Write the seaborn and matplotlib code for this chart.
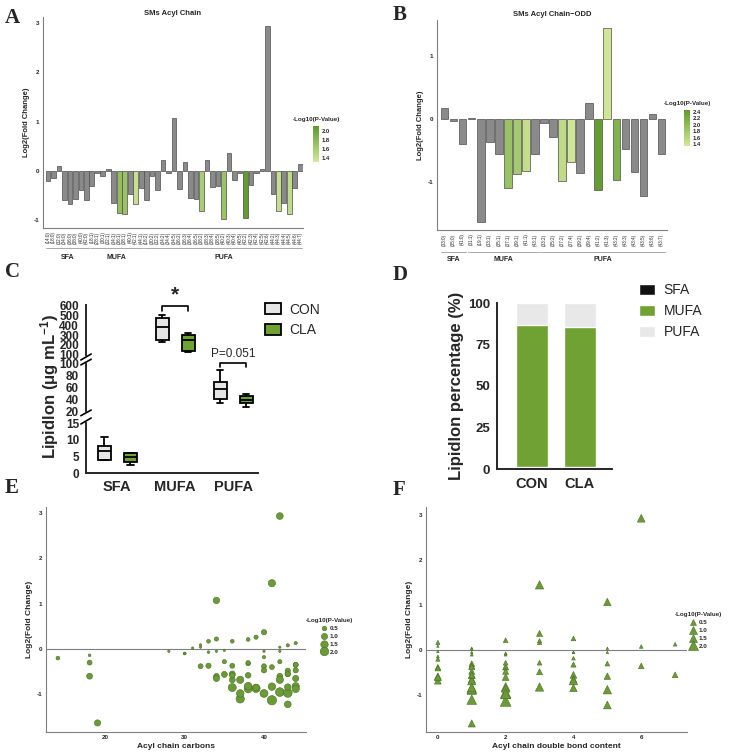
import numpy as np
import pandas as pd
import matplotlib
matplotlib.use("Agg")
import matplotlib.pyplot as plt
import seaborn as sns
from matplotlib.colors import LinearSegmentedColormap, Normalize
from matplotlib.patches import Patch
from matplotlib.lines import Line2D
import matplotlib.transforms as mtransforms

# -----------------------------
# Data: panel A (SMs acyl chain)
# -----------------------------
a_sfa = ["(14:0)", "(18:0)", "(32:0)", "(34:0)", "(36:0)", "(38:0)", "(40:0)", "(42:0)"]
a_mufa = ["(18:1)", "(28:1)", "(30:1)", "(32:1)", "(34:1)", "(36:1)", "(38:1)",
          "(40:1)", "(42:1)", "(44:1)"]
a_pufa = ["(18:2)", "(30:2)", "(32:2)", "(34:2)", "(34:4)", "(34:5)", "(36:2)", "(36:3)",
          "(36:4)", "(36:5)", "(38:2)", "(38:3)", "(38:4)", "(38:5)", "(40:2)", "(40:3)",
          "(40:4)", "(40:5)", "(42:2)", "(42:3)", "(42:4)", "(42:5)", "(42:6)", "(44:2)",
          "(44:3)", "(44:4)", "(44:5)", "(44:6)", "(44:7)"]
a_fc = [-0.20, -0.14, 0.09, -0.60, -0.68, -0.58, -0.38, -0.60,
        -0.30, -0.05, -0.10, 0.04, -0.65, -0.85, -0.88, -0.47, -0.68, -0.35,
        -0.60, -0.10, -0.38, 0.22, -0.05, 1.07, -0.37, 0.17, -0.55, -0.58,
        -0.82, 0.21, -0.32, -0.30, -0.98, 0.37, -0.18, -0.05, -0.95, -0.28,
        -0.05, 0.04, 2.93, -0.47, -0.82, -0.65, -0.88, -0.35, 0.13]
a_nlp = [0.3, 0.1, 0.05, 0.8, 0.9, 0.8, 0.6, 0.9,
         0.6, 0.05, 0.1, 0.05, 1.0, 1.75, 1.7, 0.7, 1.4, 0.6,
         0.9, 0.1, 0.6, 0.4, 0.05, 1.1, 0.6, 0.3, 0.9, 0.8,
         1.6, 0.3, 0.5, 0.4, 1.7, 0.7, 0.2, 0.05, 2.1, 0.4,
         0.05, 0.05, 1.2, 0.7, 1.4, 1.0, 1.45, 0.6, 0.2]

# -----------------------------
# Data: panel B (odd chains)
# -----------------------------
b_sfa = ["(33:0)", "(35:0)", "(41:0)"]
b_mufa = ["(31:1)", "(19:1)", "(33:1)", "(35:1)", "(37:1)", "(39:1)", "(41:1)", "(43:1)"]
b_pufa = ["(33:2)", "(35:2)", "(37:2)", "(37:4)", "(39:2)", "(39:4)", "(41:2)", "(41:3)",
          "(43:2)", "(43:3)", "(43:4)", "(43:5)", "(43:6)", "(43:7)"]
b_fc = [0.17, -0.03, -0.40, 0.02, -1.63, -0.37, -0.56, -1.10, -0.87, -0.83, -0.55,
        -0.07, -0.28, -0.98, -0.68, -0.85, 0.26, -1.13, 1.45, -0.97, -0.48, -0.84,
        -1.22, 0.08, -0.55]
b_nlp = [0.3, 0.05, 0.6, 0.05, 1.0, 0.7, 0.9, 1.9, 1.8, 1.5, 0.8, 0.1, 0.4, 1.55,
         1.4, 1.2, 0.4, 2.4, 1.4, 2.1, 0.7, 1.1, 1.2, 0.2, 0.6]

# -----------------------------
# Data: panel C (box plots, min/q1/median/q3/max)
# -----------------------------
c_groups = ["SFA", "MUFA", "PUFA"]
c_con_sfa = [3.8, 4.0, 6.6, 8.2, 10.7]
c_cla_sfa = [2.5, 3.4, 4.9, 5.9, 6.1]
c_con_mufa = [225, 245, 380, 468, 497]
c_cla_mufa = [133, 143, 250, 300, 317]
c_con_pufa = [34, 40.5, 57, 70, 89]
c_cla_pufa = [26, 33, 39, 45, 49.5]

# -----------------------------
# Data: panel D (composition %)
# -----------------------------
d_groups = ["CON", "CLA"]
d_sfa = [1.5, 1.5]
d_mufa = [85.3, 84.3]
d_pufa = [13.2, 14.2]

# -----------------------------
# Styling
# -----------------------------
sns.set_style("white")
plt.rcParams["font.family"] = ["Liberation Sans", "DejaVu Sans"]
plt.rcParams["mathtext.default"] = "regular"

W, H = 729, 752
GRAY = "#8a8a8a"
GREEN = "#6fa232"
PT_GREEN = "#6b9b37"
cmap = LinearSegmentedColormap.from_list("pv", ["#d4e99b", "#5e9a2c"])


def px(x0, y0, x1, y1):
    return [x0 / W, 1 - y1 / H, (x1 - x0) / W, (y1 - y0) / H]


fig = plt.figure(figsize=(W / 100, H / 100), dpi=100)


def style_thin(ax):
    for s in ["top", "right"]:
        ax.spines[s].set_visible(False)
    for s in ["left", "bottom"]:
        ax.spines[s].set_color("#7f7f7f")
        ax.spines[s].set_linewidth(0.8)
    ax.tick_params(axis="both", length=1.5, width=0.5, color="#7f7f7f",
                   labelsize=4.5, pad=1)


def bar_panel(rect, cbar_rect, labels, fc, nlp, groups, vmin, vmax, cticks,
              title, xlim, ylim, yticks, line_y, text_y, title_pad):
    ax = fig.add_axes(px(*rect))
    norm = Normalize(vmin=vmin, vmax=vmax)
    colors = [cmap(norm(p)) if p >= 1.3 else GRAY for p in nlp]
    sns.barplot(x=labels, y=fc, hue=labels, palette=colors, legend=False,
                saturation=1, width=0.85, edgecolor="#4d4d4d", linewidth=0.5, ax=ax)
    style_thin(ax)
    ax.set_xlim(*xlim)
    ax.set_ylim(*ylim)
    ax.set_yticks(yticks)
    ax.set_yticklabels([str(t) for t in yticks], fontweight="bold")
    ax.tick_params(axis="x", labelrotation=90, labelsize=3.3, pad=1)
    ax.set_xlabel("")
    ax.set_ylabel("Log2(Fold Change)", fontsize=5.5, fontweight="bold", labelpad=3)
    ax.set_title(title, fontsize=5.5, fontweight="bold", pad=title_pad)
    trans = mtransforms.blended_transform_factory(ax.transData, ax.transAxes)
    start = 0
    for name, n in groups:
        ax.plot([start - 0.4, start + n - 0.6], [line_y, line_y], color="#9a9a9a",
                lw=0.6, transform=trans, clip_on=False)
        ax.text(start + (n - 1) / 2, text_y, name, transform=trans, ha="center",
                va="top", fontsize=5, fontweight="bold")
        start += n
    cax = fig.add_axes(px(*cbar_rect))
    sm = plt.cm.ScalarMappable(norm=norm, cmap=cmap)
    cb = fig.colorbar(sm, cax=cax, ticks=cticks)
    cb.outline.set_visible(False)
    cb.ax.tick_params(length=0, labelsize=4.2, pad=2)
    cb.ax.set_yticklabels([f"{t:.1f}" for t in cticks], fontweight="bold")
    cax.text(0.5, 1.12, "-Log10(P-Value)", transform=cax.transAxes, ha="center",
             va="bottom", fontsize=4.5, fontweight="bold")
    return ax


# -----------------------------
# Panel A
# -----------------------------
bar_panel((43, 17, 303, 228), (313, 126, 319, 162), a_sfa + a_mufa + a_pufa, a_fc,
          a_nlp, [("SFA", len(a_sfa)), ("MUFA", len(a_mufa)), ("PUFA", len(a_pufa))],
          1.3, 2.12, [1.4, 1.6, 1.8, 2.0], "SMs Acyl Chain", (-0.9, 46.5),
          (-1.16, 3.12), [-1, 0, 1, 2, 3], -0.095, -0.125, 1.5)

# -----------------------------
# Panel B
# -----------------------------
bar_panel((437, 20, 667, 230), (684, 110, 690, 146), b_sfa + b_mufa + b_pufa, b_fc,
          b_nlp, [("SFA", len(b_sfa)), ("MUFA", len(b_mufa)), ("PUFA", len(b_pufa))],
          1.35, 2.45, [1.4, 1.6, 1.8, 2.0, 2.2, 2.4], "SMs Acyl Chain\u2212ODD",
          (-0.83, 24.6), (-1.76, 1.57), [-1, 0, 1], -0.105, -0.125, 3)

# -----------------------------
# Panel C: broken-axis box plots
# -----------------------------
rows = []
for g, con, cla in zip(c_groups, [c_con_sfa, c_con_mufa, c_con_pufa],
                       [c_cla_sfa, c_cla_mufa, c_cla_pufa]):
    rows += [(g, "CON", v) for v in con]
    rows += [(g, "CLA", v) for v in cla]
df_c = pd.DataFrame(rows, columns=["group", "cond", "value"])

c_top = fig.add_axes(px(86, 305, 258, 355))
c_mid = fig.add_axes(px(86, 364, 258, 411))
c_bot = fig.add_axes(px(86, 423, 258, 473))
segments = [(c_top, (100, 600), [100, 200, 300, 400, 500, 600]),
            (c_mid, (20, 100), [20, 40, 60, 80, 100]),
            (c_bot, (0, 15), [0, 5, 10, 15])]
for ax, lim, ticks in segments:
    sns.boxplot(data=df_c, x="group", y="value", hue="cond", order=c_groups,
                hue_order=["CON", "CLA"],
                palette={"CON": "#e6e6e6", "CLA": GREEN}, whis=(0, 100),
                width=0.9, gap=0.5, linecolor="black", linewidth=1.3,
                saturation=1, legend=False, ax=ax)
    ax.set_ylim(*lim)
    ax.set_xlim(-0.54, 2.43)
    ax.set_yticks(ticks)
    ax.set_yticklabels([str(t) for t in ticks], fontweight="bold", fontsize=8.5)
    ax.set_xlabel("")
    ax.set_ylabel("")
    ax.spines["top"].set_visible(False)
    ax.spines["right"].set_visible(False)
    ax.spines["left"].set_linewidth(1.4)
    ax.spines["bottom"].set_linewidth(1.4)
    ax.tick_params(axis="y", length=4, width=1.4, pad=1, color="black")
    if ax is not c_bot:
        ax.spines["bottom"].set_visible(False)
        ax.set_xticks([])
    # break marks on the left spine
    if ax is not c_top:
        ax.plot([-0.03, 0.03], [0.98, 1.1], transform=ax.transAxes, color="black",
                lw=1.2, clip_on=False)
    if ax is not c_bot:
        ax.plot([-0.03, 0.03], [-0.1, 0.02], transform=ax.transAxes, color="black",
                lw=1.2, clip_on=False)
c_bot.set_xticks(range(len(c_groups)))
c_bot.set_xticklabels(c_groups, fontweight="bold", fontsize=10.5)
c_bot.tick_params(axis="x", length=0, pad=5)
fig.text(50 / W, 1 - 386 / H, "Lipidlon (\u03bcg mL$^{-1}$)", rotation=90,
         ha="center", va="center", fontsize=12, fontweight="bold")

# significance marks
c_top.plot([0.775, 0.775, 1.225, 1.225], [545, 590, 590, 545], color="black",
           lw=1.2, clip_on=False)
c_top.text(1.0, 605, "*", ha="center", va="bottom", fontsize=15, fontweight="bold")
c_mid.plot([1.775, 1.775, 2.225, 2.225], [95, 102, 102, 95], color="black",
           lw=1.2, clip_on=False)
c_mid.text(2.0, 107, "P=0.051", ha="center", va="bottom", fontsize=8.5)

fig.legend(handles=[Patch(facecolor="#e6e6e6", edgecolor="black", linewidth=1.3),
                    Patch(facecolor=GREEN, edgecolor="black", linewidth=1.3)],
           labels=["CON", "CLA"], loc="upper left",
           bbox_to_anchor=(252 / W, 1 - 290 / H), frameon=False, fontsize=10,
           handlelength=1.2, handleheight=0.8, handletextpad=0.6, labelspacing=0.5)

# -----------------------------
# Panel D: stacked composition
# -----------------------------
ax_d = fig.add_axes(px(497, 303, 612, 469))
cum_mufa = [s + m for s, m in zip(d_sfa, d_mufa)]
cum_pufa = [s + m + p for s, m, p in zip(d_sfa, d_mufa, d_pufa)]
for vals, col in [(cum_pufa, "#e8e8e8"), (cum_mufa, GREEN), (d_sfa, "#111111")]:
    sns.barplot(x=d_groups, y=vals, color=col, saturation=1, width=0.67, ax=ax_d)
ax_d.set_xlim(-0.73, 1.67)
ax_d.set_ylim(0, 100)
ax_d.set_yticks([0, 25, 50, 75, 100])
ax_d.set_yticklabels(["0", "25", "50", "75", "100"], fontweight="bold", fontsize=9.5)
ax_d.set_xticks([0, 1])
ax_d.set_xticklabels(d_groups, fontweight="bold", fontsize=10.5)
ax_d.tick_params(axis="x", length=0, pad=6)
ax_d.tick_params(axis="y", length=4, width=1.4, pad=1)
ax_d.spines["top"].set_visible(False)
ax_d.spines["right"].set_visible(False)
ax_d.spines["left"].set_linewidth(1.4)
ax_d.spines["bottom"].set_linewidth(1.4)
ax_d.set_ylabel("Lipidlon percentage (%)", fontsize=12, fontweight="bold", labelpad=3)
ax_d.set_xlabel("")
fig.legend(handles=[Patch(facecolor="#111111"), Patch(facecolor=GREEN),
                    Patch(facecolor="#e8e8e8")],
           labels=["SFA", "MUFA", "PUFA"], loc="upper left",
           bbox_to_anchor=(626 / W, 1 - 271 / H), frameon=False, fontsize=10,
           handlelength=1.2, handleheight=0.8, handletextpad=0.6, labelspacing=0.5)

# -----------------------------
# Panels E / F: scatter by carbons and double bonds
# -----------------------------
all_labels = a_sfa + a_mufa + a_pufa + b_sfa + b_mufa + b_pufa
carbons = [int(l.strip("()").split(":")[0]) for l in all_labels]
dbonds = [int(l.strip("()").split(":")[1]) for l in all_labels]
fc_all = a_fc + b_fc
nlp_all = a_nlp + b_nlp


def scatter_panel(rect, x, marker, smax, xlim, ylim, xticks, xlabel, leg_xy):
    ax = fig.add_axes(px(*rect))
    smin = 2
    sns.scatterplot(x=x, y=fc_all, size=nlp_all, sizes=(smin, smax),
                    size_norm=(0, 2.4), marker=marker, color=PT_GREEN,
                    edgecolor="#4a6e25", linewidth=0.4, legend=False, ax=ax)
    ax.axhline(0, color="#7f7f7f", lw=0.8, zorder=0)
    style_thin(ax)
    ax.set_xlim(*xlim)
    ax.set_ylim(*ylim)
    ax.set_xticks(xticks)
    ax.set_xticklabels([str(t) for t in xticks], fontweight="bold")
    ax.set_yticks([-1, 0, 1, 2, 3])
    ax.set_yticklabels(["-1", "0", "1", "2", "3"], fontweight="bold")
    ax.set_xlabel(xlabel, fontsize=6, fontweight="bold", labelpad=2)
    ax.set_ylabel("Log2(Fold Change)", fontsize=6, fontweight="bold", labelpad=3)
    vals = [0.5, 1.0, 1.5, 2.0]
    handles = [Line2D([], [], ls="", marker=marker, color=PT_GREEN,
                      markeredgecolor="#4a6e25", markeredgewidth=0.4,
                      markersize=np.sqrt(smin + (smax - smin) * v / 2.4)) for v in vals]
    leg = fig.legend(handles=handles, labels=[f"{v:.1f}" for v in vals],
                     title="-Log10(P-Value)", loc="upper left",
                     bbox_to_anchor=leg_xy, frameon=False, fontsize=4.5,
                     title_fontsize=4.5, handlelength=1, handletextpad=0.4,
                     labelspacing=0.4, borderpad=0)
    leg.get_title().set_fontweight("bold")
    for t in leg.get_texts():
        t.set_fontweight("bold")
    return ax


scatter_panel((46, 507, 306, 732), carbons, "o", 45, (12.5, 45.3), (-1.83, 3.13),
              [20, 30, 40], "Acyl chain carbons", (303 / W, 1 - 615 / H))
scatter_panel((426, 507, 687, 732), dbonds, "^", 60, (-0.35, 7.35), (-1.82, 3.18),
              [0, 2, 4, 6], "Acyl chain double bond content", (672 / W, 1 - 609 / H))

# -----------------------------
# Panel letters
# -----------------------------
for letter, x, y in [("A", 5, 8), ("B", 393, 5), ("C", 5, 262), ("D", 393, 265),
                     ("E", 5, 478), ("F", 393, 480)]:
    fig.text(x / W, 1 - y / H, letter, ha="left", va="top", fontsize=15,
             fontweight="bold", family="Liberation Serif")

fig.savefig("out.png", dpi=100)
